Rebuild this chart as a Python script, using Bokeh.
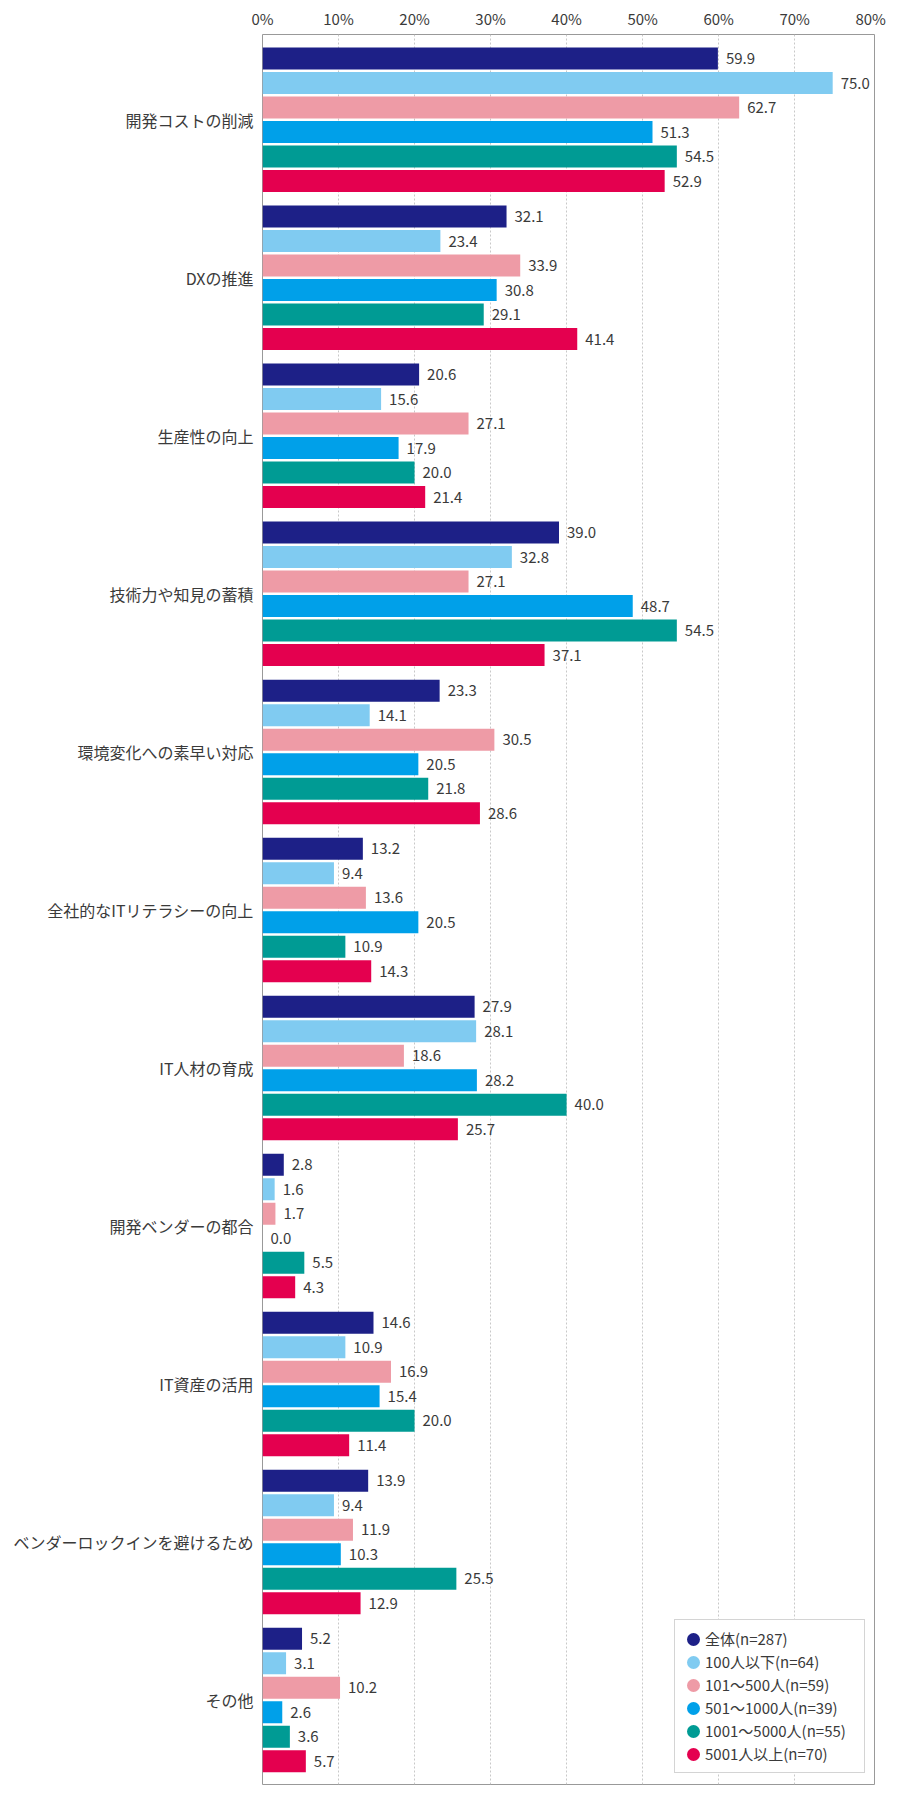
from bokeh.plotting import figure
from bokeh.models import Range1d, FixedTicker, PrintfTickFormatter, Legend, LegendItem
from bokeh.core.properties import value
from bokeh.embed import file_html
from bokeh.resources import INLINE

# reasons (top to bottom)
categories = [
    "開発コストの削減",
    "DXの推進",
    "生産性の向上",
    "技術力や知見の蓄積",
    "環境変化への素早い対応",
    "全社的なITリテラシーの向上",
    "IT人材の育成",
    "開発ベンダーの都合",
    "IT資産の活用",
    "ベンダーロックインを避けるため",
    "その他",
]

# series (company size)
series_names = [
    "全体(n=287)",
    "100人以下(n=64)",
    "101～500人(n=59)",
    "501～1000人(n=39)",
    "1001～5000人(n=55)",
    "5001人以上(n=70)",
]

total = [59.9, 32.1, 20.6, 39.0, 23.3, 13.2, 27.9, 2.8, 14.6, 13.9, 5.2]
under_100 = [75.0, 23.4, 15.6, 32.8, 14.1, 9.4, 28.1, 1.6, 10.9, 9.4, 3.1]
s101_500 = [62.7, 33.9, 27.1, 27.1, 30.5, 13.6, 18.6, 1.7, 16.9, 11.9, 10.2]
s501_1000 = [51.3, 30.8, 17.9, 48.7, 20.5, 20.5, 28.2, 0.0, 15.4, 10.3, 2.6]
s1001_5000 = [54.5, 29.1, 20.0, 54.5, 21.8, 10.9, 40.0, 5.5, 20.0, 25.5, 3.6]
over_5001 = [52.9, 41.4, 21.4, 37.1, 28.6, 14.3, 25.7, 4.3, 11.4, 12.9, 5.7]

series_values = [total, under_100, s101_500, s501_1000, s1001_5000, over_5001]
colors = ["#1d2087", "#80cbf1", "#ee9ba6", "#00a0e9", "#009b94", "#e4004f"]

x_ticks = [0, 10, 20, 30, 40, 50, 60, 70, 80]

FONT = "Noto Sans CJK JP"
TEXT = "#3a3a3a"

slot = 24.5 / 158.0      # one bar slot, in category units
bar_h = 22.0 / 158.0

p = figure(width=896, height=1796,
           x_range=Range1d(0, 80.5), y_range=Range1d(10.535, -0.54),
           x_axis_location="above",
           output_backend="svg", toolbar_location=None,
           min_border_left=262, min_border_right=22,
           min_border_top=34, min_border_bottom=12)

p.outline_line_color = "#999999"
p.background_fill_color = "white"

# bars and value labels
legend_items = []
for j, (name, vals, col) in enumerate(zip(series_names, series_values, colors)):
    ys = [i + (j - 2.5) * slot for i in range(len(categories))]
    p.hbar(y=ys, left=0, right=vals, height=bar_h, fill_color=col, line_color=None)
    p.text(x=vals, y=ys, text=["%.1f" % v for v in vals], x_offset=8,
           text_baseline="middle", text_align="left",
           text_font=value(FONT), text_font_size="15px", text_color=TEXT)
    # off-screen line only used for the legend: a zero-length dash with a
    # round cap gives a 13px dot in the middle of the glyph box
    r = p.line(x=[-100, -99], y=[0, 0], line_color=col, line_width=13,
               line_cap="round", line_dash="0 100", line_dash_offset=-10)
    legend_items.append(LegendItem(label=name, renderers=[r]))

# x axis (top)
p.xaxis.ticker = FixedTicker(ticks=x_ticks)
p.xaxis.formatter = PrintfTickFormatter(format="%d%%")
p.xaxis.axis_line_color = None
p.xaxis.major_tick_line_color = None
p.xaxis.minor_tick_line_color = None
p.xaxis.major_tick_out = 0
p.xaxis.major_label_standoff = 6
p.xaxis.major_label_text_font = FONT
p.xaxis.major_label_text_font_size = "15px"
p.xaxis.major_label_text_color = TEXT

# y axis with category names
p.yaxis.ticker = FixedTicker(ticks=list(range(len(categories))))
p.yaxis.major_label_overrides = {i: c for i, c in enumerate(categories)}
p.yaxis.axis_line_color = None
p.yaxis.major_tick_line_color = None
p.yaxis.minor_tick_line_color = None
p.yaxis.major_tick_out = 0
p.yaxis.major_label_standoff = 9
p.yaxis.major_label_text_font = FONT
p.yaxis.major_label_text_font_size = "16px"
p.yaxis.major_label_text_color = TEXT

# grid
p.xgrid.ticker = FixedTicker(ticks=x_ticks[1:-1])
p.xgrid.grid_line_color = "#c8c8c8"
p.xgrid.grid_line_dash = "2 2"
p.ygrid.grid_line_color = None

legend = Legend(items=legend_items, location=(412, 11))
legend.border_line_color = "#aaaaaa"
legend.background_fill_alpha = 1.0
legend.padding = 8
legend.spacing = 2
legend.margin = 0
legend.label_height = 18
legend.label_width = 151
legend.glyph_height = 18
legend.glyph_width = 20
legend.label_standoff = 2
legend.label_text_font = FONT
legend.label_text_font_size = "15px"
legend.label_text_color = TEXT
p.add_layout(legend, "center")

open("out.html", "w").write(file_html(p, INLINE))
